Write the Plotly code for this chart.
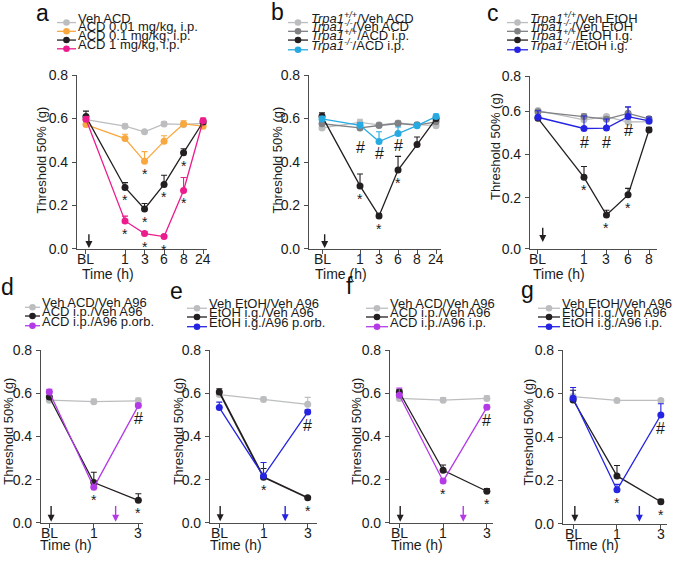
import plotly.graph_objects as go

W, H = 685, 565
FONT = "Liberation Sans, Arial, Helvetica, sans-serif"

LGRAY = "#bcbdbf"
DGRAY = "#7f8184"
BLACK = "#231f20"
ORANGE = "#f9a83f"
MAGENTA = "#ec1c8c"
CYAN = "#27aae1"
BLUE = "#2424e2"
PURPLE = "#b43ae8"

# ---------------- data ----------------
ticks_ab = ["BL", "1", "3", "6", "8", "24"]
ticks_c = ["BL", "1", "3", "6", "8"]
ticks_dg = ["BL", "1", "3"]

# panel a
a_veh = [0.595, 0.565, 0.539, 0.575, 0.573, 0.578]
a_veh_err = [0.010, 0.010, 0.006, 0.010, 0.006, 0.010]
a_001 = [0.572, 0.508, 0.403, 0.495, 0.575, 0.565]
a_001_err = [0.008, 0.020, 0.045, 0.026, 0.015, 0.008]
a_01 = [0.609, 0.283, 0.184, 0.297, 0.443, 0.584]
a_01_err = [0.025, 0.022, 0.025, 0.042, 0.018, 0.012]
a_1 = [0.597, 0.129, 0.071, 0.057, 0.269, 0.590]
a_1_err = [0.012, 0.022, 0.008, 0.008, 0.060, 0.012]

# panel b
b_wt_veh = [0.557, 0.582, 0.571, 0.580, 0.572, 0.567]
b_wt_veh_err = [0.010, 0.015, 0.010, 0.010, 0.010, 0.008]
b_ko_veh = [0.576, 0.557, 0.568, 0.577, 0.570, 0.585]
b_ko_veh_err = [0.010, 0.008, 0.010, 0.010, 0.012, 0.010]
b_wt_acd = [0.611, 0.290, 0.152, 0.363, 0.480, 0.600]
b_wt_acd_err = [0.015, 0.055, 0.010, 0.063, 0.035, 0.010]
b_ko_acd = [0.598, 0.569, 0.494, 0.531, 0.567, 0.609]
b_ko_acd_err = [0.012, 0.012, 0.045, 0.030, 0.012, 0.012]

# panel c
c_wt_veh = [0.603, 0.560, 0.575, 0.550, 0.552]
c_wt_veh_err = [0.008, 0.020, 0.008, 0.010, 0.010]
c_ko_veh = [0.598, 0.575, 0.563, 0.590, 0.565]
c_ko_veh_err = [0.008, 0.012, 0.010, 0.028, 0.010]
c_wt_etoh = [0.567, 0.294, 0.120, 0.213, 0.513]
c_wt_etoh_err = [0.010, 0.050, 0.022, 0.030, 0.012]
c_ko_etoh = [0.572, 0.520, 0.522, 0.575, 0.555]
c_ko_etoh_err = [0.030, 0.058, 0.042, 0.045, 0.018]

# panel d
d_veh = [0.568, 0.561, 0.565]
d_veh_err = [0.015, 0.012, 0.013]
d_acd = [0.583, 0.187, 0.105]
d_acd_err = [0.025, 0.048, 0.030]
d_a96 = [0.606, 0.165, 0.543]
d_a96_err = [0.012, 0.008, 0.010]

# panel e
e_veh = [0.594, 0.571, 0.549]
e_veh_err = [0.010, 0.012, 0.032]
e_etoh = [0.606, 0.212, 0.117]
e_etoh_err = [0.015, 0.040, 0.005]
e_a96 = [0.534, 0.217, 0.513]
e_a96_err = [0.025, 0.063, 0.010]

# panel f
f_veh = [0.576, 0.568, 0.576]
f_veh_err = [0.010, 0.012, 0.012]
f_acd = [0.606, 0.244, 0.147]
f_acd_err = [0.010, 0.024, 0.012]
f_a96 = [0.591, 0.194, 0.535]
f_a96_err = [0.033, 0.010, 0.010]

# panel g
g_veh = [0.586, 0.568, 0.568]
g_veh_err = [0.010, 0.005, 0.005]
g_etoh = [0.570, 0.221, 0.102]
g_etoh_err = [0.045, 0.048, 0.012]
g_a96 = [0.578, 0.157, 0.501]
g_a96_err = [0.050, 0.025, 0.052]

TR_WT = "<i>Trpa1<sup>+/+</sup></i>"
TR_KO = "<i>Trpa1<sup>-/-</sup></i>"

# ---------------- panel layout ----------------
panels = [
    dict(letter="a", lx=42, ly=5,
         box=(77, 207, 69, 248), xr=[-0.46, 6.2], yr=[0, 0.8],
         yt=[0, 0.2, 0.4, 0.6, 0.8], ytt=["0.0", "0.2", "0.4", "0.6", "0.8"],
         pos=[0, 2, 3, 4, 5, 6], ticks=ticks_ab,
         series=[("Veh ACD", LGRAY, a_veh, a_veh_err),
                 ("ACD 0.01 mg/kg, i.p.", ORANGE, a_001, a_001_err),
                 ("ACD 0.1 mg/kg, i.p.", BLACK, a_01, a_01_err),
                 ("ACD 1 mg/kg, i.p.", MAGENTA, a_1, a_1_err)],
         leg=(57, 76, 77, [15, 24, 33, 42]),
         ytitle=(42, 157), time=(80, 273),
         arrows=[(0.15, BLACK)], arr_y=(0.004, 0.075),
         stars=[(1, 2), (2, 1), (2, 2), (2, 3), (2, 4), (3, 1), (3, 2), (3, 3), (3, 4)],
         hashes=[]),
    dict(letter="b", lx=277, ly=4,
         box=(309, 441, 69, 248), xr=[-0.684, 6.26], yr=[0, 0.8],
         yt=[0, 0.2, 0.4, 0.6, 0.8], ytt=["0.0", "0.2", "0.4", "0.6", "0.8"],
         pos=[0, 2, 3, 4, 5, 6], ticks=ticks_ab,
         series=[(TR_WT + "/Veh ACD", LGRAY, b_wt_veh, b_wt_veh_err),
                 (TR_KO + "/Veh ACD", DGRAY, b_ko_veh, b_ko_veh_err),
                 (TR_WT + "/ACD i.p.", BLACK, b_wt_acd, b_wt_acd_err),
                 (TR_KO + "/ACD i.p.", CYAN, b_ko_acd, b_ko_acd_err)],
         leg=(288, 308, 310, [15, 24, 33, 43]),
         ytitle=(278, 157), time=(313, 273),
         arrows=[(0.14, BLACK)], arr_y=(0.004, 0.075),
         stars=[(2, 1), (2, 2), (2, 3)],
         hashes=[(1, 1, -20), (3, 2, -12), (3, 3, -12)]),
    dict(letter="c", lx=493, ly=5,
         box=(530, 657, 70, 248), xr=[-0.37, 5.51], yr=[-0.0373, 0.7627],
         yt=[-0.0373, 0.2, 0.4, 0.6, 0.7627], ytt=["0.0", "0.2", "0.4", "0.6", "0.8"],
         pos=[0, 2.13, 3.17, 4.17, 5.14], ticks=ticks_c,
         series=[(TR_WT + "/Veh EtOH", LGRAY, c_wt_veh, c_wt_veh_err),
                 (TR_KO + "/Veh EtOH", DGRAY, c_ko_veh, c_ko_veh_err),
                 (TR_WT + "/EtOH i.g.", BLACK, c_wt_etoh, c_wt_etoh_err),
                 (TR_KO + "/EtOH i.g.", BLUE, c_ko_etoh, c_ko_etoh_err)],
         leg=(507, 528, 529, [15, 24, 33, 43]),
         ytitle=(496, 143), time=(531, 273),
         arrows=[(0.22, BLACK)], arr_y=(-0.005, 0.068),
         stars=[(2, 1), (2, 2), (2, 3)],
         hashes=[(3, 1, -14), (3, 2, -14), (3, 3, -14)]),
    dict(letter="d", lx=7, ly=287,
         box=(41, 143, 352, 530), xr=[-0.187, 2.105], yr=[0, 0.8],
         yt=[0, 0.2, 0.4, 0.6, 0.8], ytt=["0.0", "0.2", "0.4", "0.6", "0.8"],
         pos=[0, 1, 2], ticks=ticks_dg,
         series=[("Veh ACD/Veh A96", LGRAY, d_veh, d_veh_err),
                 ("ACD i.p./Veh A96", BLACK, d_acd, d_acd_err),
                 ("ACD i.p./A96 p.orb.", PURPLE, d_a96, d_a96_err)],
         leg=(25, 40, 41, [308, 317, 327]),
         ytitle=(9, 436), time=(38, 552),
         arrows=[(0.04, BLACK), (1.49, PURPLE)], arr_y=(0.006, 0.085),
         stars=[(2, 1), (1, 2)],
         hashes=[(2, 2, -13)]),
    dict(letter="e", lx=176, ly=291,
         box=(210, 317, 352, 530), xr=[-0.21, 2.21], yr=[0, 0.8],
         yt=[0, 0.2, 0.4, 0.6, 0.8], ytt=["0.0", "0.2", "0.4", "0.6", "0.8"],
         pos=[0, 1, 2], ticks=ticks_dg,
         series=[("Veh EtOH/Veh A96", LGRAY, e_veh, e_veh_err),
                 ("EtOH i.g./Veh A96", BLACK, e_etoh, e_etoh_err),
                 ("EtOH i.g./A96 p.orb.", BLUE, e_a96, e_a96_err)],
         leg=(187, 207, 208, [309, 318, 328]),
         ytitle=(179, 436), time=(208, 552),
         arrows=[(0.02, BLACK), (1.49, BLUE)], arr_y=(0.008, 0.085),
         stars=[(1, 1), (1, 2)],
         hashes=[(2, 2, -13)]),
    dict(letter="f", lx=349, ly=286,
         box=(390, 493, 352, 530), xr=[-0.213, 2.14], yr=[0, 0.8],
         yt=[0, 0.2, 0.4, 0.6, 0.8], ytt=["0.0", "0.2", "0.4", "0.6", "0.8"],
         pos=[0, 1, 2], ticks=ticks_dg,
         series=[("Veh ACD/Veh A96", LGRAY, f_veh, f_veh_err),
                 ("ACD i.p./Veh A96", BLACK, f_acd, f_acd_err),
                 ("ACD i.p./A96 i.p.", PURPLE, f_a96, f_a96_err)],
         leg=(366, 388, 389, [309, 318, 328]),
         ytitle=(357, 436), time=(389, 552),
         arrows=[(0.02, BLACK), (1.46, PURPLE)], arr_y=(0.006, 0.085),
         stars=[(2, 1), (1, 2)],
         hashes=[(2, 2, -13)]),
    dict(letter="g", lx=527, ly=290,
         box=(563, 667, 352, 531), xr=[-0.23, 2.14], yr=[0, 0.8],
         yt=[0, 0.2, 0.4, 0.6, 0.8], ytt=["0.0", "0.2", "0.4", "0.6", "0.8"],
         pos=[0, 1, 2], ticks=ticks_dg,
         series=[("Veh EtOH/Veh A96", LGRAY, g_veh, g_veh_err),
                 ("EtOH i.g./Veh A96", BLACK, g_etoh, g_etoh_err),
                 ("EtOH i.g./A96 i.p.", BLUE, g_a96, g_a96_err)],
         leg=(538, 560, 561, [309, 318, 328]),
         ytitle=(529, 437), time=(565, 552),
         arrows=[(0.04, BLACK), (1.51, BLUE)], arr_y=(0.01, 0.09),
         stars=[(2, 1), (1, 2)],
         hashes=[(2, 2, -13)]),
]


def px(x):
    return x / W


def py(y):
    return 1 - y / H


LEG_FS = 13
TICK_FS = 14

fig = go.Figure()
annotations = []
shapes = []
layout_axes = {}

for i, p in enumerate(panels):
    n = "" if i == 0 else str(i + 1)
    xa, ya = "x" + n, "y" + n
    x0, x1, yt0, yb0 = p["box"]
    axis_style = dict(showline=True, linecolor="#4d4d4d", linewidth=1.1,
                      ticks="outside", ticklen=4, tickwidth=1.1, tickcolor="#4d4d4d",
                      showgrid=False, zeroline=False,
                      tickfont=dict(family=FONT, size=TICK_FS, color="#1a1a1a"))
    layout_axes["xaxis" + n] = dict(domain=[px(x0), px(x1)], range=p["xr"], anchor=ya,
                                    tickmode="array", tickvals=p["pos"], ticktext=p["ticks"],
                                    showticklabels=False, **axis_style)
    layout_axes["yaxis" + n] = dict(domain=[py(yb0), py(yt0)], range=p["yr"], anchor=xa,
                                    tickmode="array", tickvals=p["yt"], ticktext=p["ytt"],
                                    ticklabelstandoff=1, **axis_style)

    # x tick labels placed just under the axis line
    for xv, lab in zip(p["pos"], p["ticks"]):
        annotations.append(dict(text=lab, x=xv, xref=xa, y=py(yb0 + 10), yref="paper",
                                xanchor="center", yanchor="middle", showarrow=False,
                                font=dict(family=FONT, size=TICK_FS, color="#1a1a1a")))

    for name, color, vals, errs in p["series"]:
        lw = 1.8 if (p["letter"] == "e" and color == BLACK) else 1.3
        fig.add_trace(go.Scatter(
            x=p["pos"], y=vals, mode="lines+markers", name=name,
            line=dict(color=color, width=lw),
            marker=dict(size=7, color=color),
            error_y=dict(type="data", symmetric=False, array=errs,
                         arrayminus=[0] * len(errs), color=color, thickness=1.1, width=3),
            xaxis=xa, yaxis=ya, showlegend=False, cliponaxis=False))

    # legend samples
    lx0, lx1, tx, rows = p["leg"]
    for (name, color, _, _), ry in zip(p["series"], rows):
        shapes.append(dict(type="line", xref="paper", yref="paper",
                           x0=px(lx0), x1=px(lx1), y0=py(ry), y1=py(ry),
                           line=dict(color=color, width=1.3)))
        cx = (lx0 + lx1) / 2
        shapes.append(dict(type="circle", xref="paper", yref="paper",
                           x0=px(cx - 3.3), x1=px(cx + 3.3), y0=py(ry + 3.3), y1=py(ry - 3.3),
                           fillcolor=color, line=dict(color=color, width=0)))
        annotations.append(dict(text=name, xref="paper", yref="paper",
                                x=px(tx), y=py(ry + 0.62 * LEG_FS - 4.0),
                                xanchor="left", yanchor="bottom", showarrow=False,
                                borderpad=0,
                                font=dict(family=FONT, size=LEG_FS, color="#1a1a1a")))

    # panel letter
    annotations.append(dict(text=p["letter"], xref="paper", yref="paper",
                            x=px(p["lx"]), y=py(p["ly"]), xanchor="center", yanchor="middle",
                            showarrow=False, font=dict(family=FONT, size=23, color="#111")))
    # y title
    annotations.append(dict(text="Threshold 50% (g)", xref="paper", yref="paper",
                            x=px(p["ytitle"][0]), y=py(p["ytitle"][1]), textangle=-90,
                            xanchor="center", yanchor="middle", showarrow=False,
                            font=dict(family=FONT, size=13, color="#1a1a1a")))
    # time label
    annotations.append(dict(text="Time (h)", xref="paper", yref="paper",
                            x=px(p["time"][0]), y=py(p["time"][1] + 1),
                            xanchor="left", yanchor="middle", showarrow=False,
                            font=dict(family=FONT, size=14, color="#1a1a1a")))
    # arrows
    tip, tail = p["arr_y"]
    for axp, col in p["arrows"]:
        annotations.append(dict(text="", x=axp, y=tip, ax=axp, ay=tail,
                                xref=xa, yref=ya, axref=xa, ayref=ya,
                                showarrow=True, arrowhead=2, arrowsize=1.0, arrowwidth=1.4,
                                arrowcolor=col, standoff=0, startstandoff=0))
    # stars
    for si, pi in p["stars"]:
        annotations.append(dict(text="*", x=p["pos"][pi], y=p["series"][si][2][pi],
                                xref=xa, yref=ya, showarrow=False, yshift=-13,
                                xanchor="center", yanchor="middle",
                                font=dict(family=FONT, size=14, color="#1a1a1a")))
    for si, pi, ys in p["hashes"]:
        annotations.append(dict(text="#", x=p["pos"][pi], y=p["series"][si][2][pi],
                                xref=xa, yref=ya, showarrow=False, yshift=ys,
                                xanchor="center", yanchor="middle",
                                font=dict(family=FONT, size=16, color="#1a1a1a")))

fig.update_layout(width=W, height=H, margin=dict(l=0, r=0, t=0, b=0),
                  paper_bgcolor="white", plot_bgcolor="white",
                  font=dict(family=FONT), showlegend=False,
                  annotations=annotations, shapes=shapes, **layout_axes)

fig.write_html("out.html", config={"displayModeBar": False},
               post_script="document.body.style.margin='0px';document.body.style.overflow='hidden';")
